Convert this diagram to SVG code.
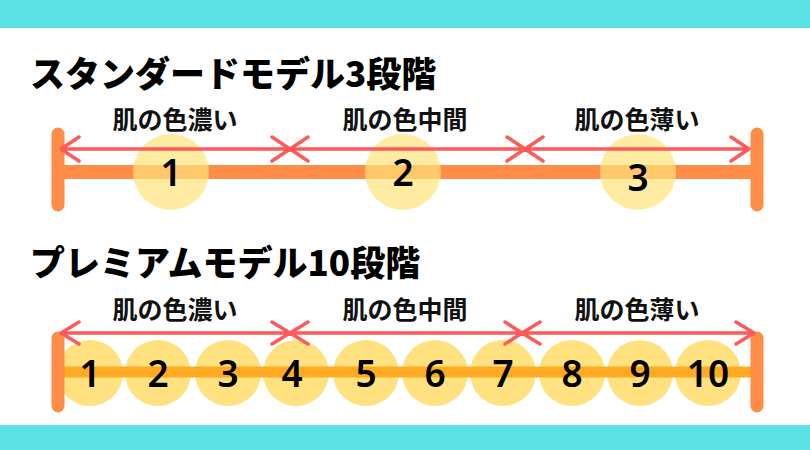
<svg xmlns="http://www.w3.org/2000/svg" width="810" height="450" viewBox="0 0 810 450">
<defs>
<style>
.t{font-family:"Noto Sans CJK JP","Noto Sans",sans-serif;font-weight:900;font-size:35px;fill:#000}
.l{font-family:"Noto Sans CJK JP","Noto Sans",sans-serif;font-weight:700;font-size:25px;fill:#111;text-anchor:middle}
.n{font-family:"Noto Sans","Noto Sans CJK JP",sans-serif;font-weight:600;font-size:37px;fill:#000;text-anchor:middle}
.cap{stroke:#FF8C47;stroke-width:13;stroke-linecap:round}
.arr{stroke:#FF5A5A;stroke-width:3.5;fill:none;stroke-linecap:round;stroke-linejoin:round}
.c1{fill:#FFE27A;opacity:0.7}
</style>
</defs>
<rect width="810" height="450" fill="#fff"/>
<rect width="810" height="28" fill="#5CE1E6"/>
<rect y="425" width="810" height="25" fill="#5CE1E6"/>
<text class="t" x="30" y="87">スタンダードモデル3段階</text>
<text class="t" x="30" y="276">プレミアムモデル10段階</text>
<g id="standard">
<line x1="58" y1="172" x2="757" y2="172" stroke="#FF8C47" stroke-width="14"/>
<line class="cap" x1="58" y1="134" x2="58" y2="205"/>
<line class="cap" x1="757" y1="134" x2="757" y2="205"/>
<circle class="c1" cx="171" cy="172" r="38"/>
<circle class="c1" cx="403" cy="172" r="38"/>
<circle class="c1" cx="638" cy="172" r="38"/>
<text class="n" x="171" y="186">1</text>
<text class="n" x="403" y="186">2</text>
<text class="n" x="638" y="191">3</text>
</g>
<g id="premium">
<g fill="#FFE27F">
<circle cx="90" cy="373" r="33"/><circle cx="158" cy="373" r="33"/><circle cx="228" cy="373" r="33"/><circle cx="296" cy="373" r="33"/><circle cx="366" cy="373" r="33"/><circle cx="435" cy="373" r="33"/><circle cx="503" cy="373" r="33"/><circle cx="572" cy="373" r="33"/><circle cx="640" cy="373" r="33"/><circle cx="708" cy="373" r="33"/>
</g>
<line x1="58" y1="372" x2="757" y2="372" stroke="#FFAA22" stroke-width="11"/>
<line class="cap" x1="58" y1="338" x2="58" y2="406"/>
<line class="cap" x1="757" y1="338" x2="757" y2="406"/>
<text class="n" x="90" y="387">1</text><text class="n" x="158" y="387">2</text><text class="n" x="228" y="387">3</text><text class="n" x="292" y="387">4</text><text class="n" x="366" y="387">5</text><text class="n" x="435" y="387">6</text><text class="n" x="503" y="387">7</text><text class="n" x="572" y="387">8</text><text class="n" x="640" y="387">9</text><text class="n" x="708" y="387">10</text>
</g>
<g id="connectors">
<path class="arr" d="M61 149H749M79 137L61 149L79 161M272 137L290 149L272 161M308 137L290 149L308 161M507 137L525 149L507 161M543 137L525 149L543 161M731 137L749 149L731 161"/>
<path class="arr" d="M61 333H754M79 322L61 333L79 344M272 322L290 333L272 344M308 322L290 333L308 344M505 322L522 333L505 344M540 322L522 333L540 344M736 322L754 333L736 344"/>
</g>
<g id="labels">
<text class="l" x="175" y="129">肌の色濃い</text>
<text class="l" x="405" y="129">肌の色中間</text>
<text class="l" x="637" y="129">肌の色薄い</text>
<text class="l" x="175" y="319">肌の色濃い</text>
<text class="l" x="405" y="319">肌の色中間</text>
<text class="l" x="637" y="319">肌の色薄い</text>
</g>
</svg>
